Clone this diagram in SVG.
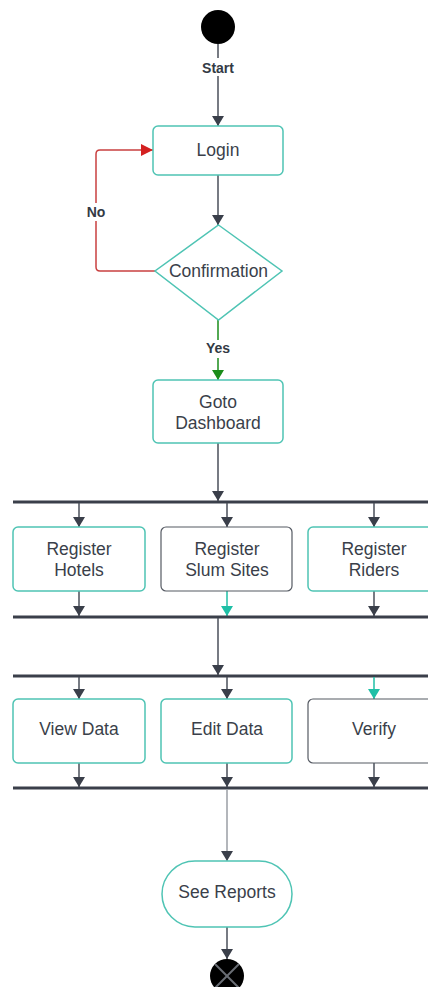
<svg xmlns="http://www.w3.org/2000/svg" width="428" height="987" viewBox="0 0 428 987">
<defs>
<style>
.box{fill:#fff;stroke:#4fc4b4;stroke-width:1.5}
.gbox{fill:#fff;stroke:#555a63;stroke-width:1.2}
.t{font-family:"Liberation Sans",Arial,sans-serif;font-size:17.5px;fill:#3a3f4a;text-anchor:middle}
.lb{font-family:"Liberation Sans",Arial,sans-serif;font-size:14px;font-weight:bold;fill:#333a45;text-anchor:middle}
.c{stroke:#4a4f5a;stroke-width:1.5;fill:none}
.bar{stroke:#3a3f4a;stroke-width:3}
</style>
<marker id="ad" markerWidth="10" markerHeight="12" refX="10" refY="6" orient="auto" markerUnits="userSpaceOnUse"><path d="M0,0 L10,6 L0,12 Z" fill="#3a3f4a"/></marker>
<marker id="at" markerWidth="10" markerHeight="12" refX="10" refY="6" orient="auto" markerUnits="userSpaceOnUse"><path d="M0,0 L10,6 L0,12 Z" fill="#1fbfa6"/></marker>
<marker id="ar" markerWidth="12" markerHeight="12" refX="12" refY="6" orient="auto" markerUnits="userSpaceOnUse"><path d="M0,0 L12,6 L0,12 Z" fill="#d42020"/></marker>
<marker id="ag" markerWidth="10" markerHeight="12" refX="10" refY="6" orient="auto" markerUnits="userSpaceOnUse"><path d="M0,0 L10,6 L0,12 Z" fill="#1a8c1a"/></marker>
</defs>
<rect width="428" height="987" fill="#fff"/>
<g id="connectors">
<line class="c" x1="218" y1="44" x2="218" y2="126" marker-end="url(#ad)"/>
<rect x="200" y="58" width="36" height="18" fill="#fff"/>
<text class="lb" x="218" y="73">Start</text>
<line class="c" x1="218" y1="175" x2="218" y2="225" marker-end="url(#ad)"/>
<path d="M155,271 H100 Q96,271 96,267 V154 Q96,150 100,150 H153" fill="none" stroke="#c94040" stroke-width="1.5" marker-end="url(#ar)"/>
<rect x="82" y="203" width="28" height="18" fill="#fff"/>
<text class="lb" x="96" y="217">No</text>
<line x1="218" y1="320" x2="218" y2="380" stroke="#1a8c1a" stroke-width="1.5" marker-end="url(#ag)"/>
<rect x="202" y="340" width="32" height="18" fill="#fff"/>
<text class="lb" x="218" y="353">Yes</text>
<line class="c" x1="218" y1="443" x2="218" y2="501" marker-end="url(#ad)"/>
<line class="bar" x1="13" y1="502" x2="428" y2="502"/>
<line class="c" x1="79" y1="503" x2="79" y2="527" marker-end="url(#ad)"/>
<line class="c" x1="227" y1="503" x2="227" y2="527" marker-end="url(#ad)"/>
<line class="c" x1="374" y1="503" x2="374" y2="527" marker-end="url(#ad)"/>
<line class="c" x1="79" y1="591" x2="79" y2="616" marker-end="url(#ad)"/>
<line x1="227" y1="591" x2="227" y2="616" stroke="#1fbfa6" stroke-width="1.5" marker-end="url(#at)"/>
<line class="c" x1="374" y1="591" x2="374" y2="616" marker-end="url(#ad)"/>
<line class="bar" x1="13" y1="617" x2="428" y2="617"/>
<line class="c" x1="218" y1="618" x2="218" y2="675" marker-end="url(#ad)"/>
<line class="bar" x1="13" y1="676" x2="428" y2="676"/>
<line class="c" x1="79" y1="677" x2="79" y2="699" marker-end="url(#ad)"/>
<line class="c" x1="227" y1="677" x2="227" y2="699" marker-end="url(#ad)"/>
<line x1="374" y1="677" x2="374" y2="699" stroke="#1fbfa6" stroke-width="1.5" marker-end="url(#at)"/>
<line class="c" x1="79" y1="763" x2="79" y2="787" marker-end="url(#ad)"/>
<line class="c" x1="227" y1="763" x2="227" y2="787" marker-end="url(#ad)"/>
<line class="c" x1="374" y1="763" x2="374" y2="787" marker-end="url(#ad)"/>
<line class="bar" x1="13" y1="788" x2="428" y2="788"/>
<line x1="227" y1="789" x2="227" y2="861" stroke="#9a9ea5" stroke-width="1.5" marker-end="url(#ad)"/>
<line class="c" x1="227" y1="927" x2="227" y2="959" marker-end="url(#ad)"/>
</g>
<g id="start"><circle cx="218" cy="27" r="17" fill="#000"/></g>
<g id="login"><rect class="box" x="153" y="126" width="130" height="49" rx="5"/><text class="t" x="218" y="156">Login</text></g>
<g id="confirmation"><polygon class="box" points="218.5,225 282,271 218.5,320 155,271"/><text class="t" x="218.5" y="277">Confirmation</text></g>
<g id="dashboard"><rect class="box" x="153" y="380" width="130" height="63" rx="5"/><text class="t" x="218" y="408">Goto</text><text class="t" x="218" y="429">Dashboard</text></g>
<g id="hotels"><rect class="box" x="13" y="527" width="132" height="64" rx="5"/><text class="t" x="79" y="555">Register</text><text class="t" x="79" y="576">Hotels</text></g>
<g id="slum"><rect class="gbox" x="161" y="527" width="131" height="64" rx="5"/><text class="t" x="227" y="555">Register</text><text class="t" x="227" y="576">Slum Sites</text></g>
<g id="riders"><rect class="box" x="308" y="527" width="132" height="64" rx="5"/><text class="t" x="374" y="555">Register</text><text class="t" x="374" y="576">Riders</text></g>
<g id="view"><rect class="box" x="13" y="699" width="132" height="64" rx="5"/><text class="t" x="79" y="735">View Data</text></g>
<g id="edit"><rect class="box" x="161" y="699" width="131" height="64" rx="5"/><text class="t" x="227" y="735">Edit Data</text></g>
<g id="verify"><rect class="gbox" x="308" y="699" width="132" height="64" rx="5"/><text class="t" x="374" y="735">Verify</text></g>
<g id="reports"><rect class="box" x="162" y="861" width="130" height="66" rx="33"/><text class="t" x="227" y="898">See Reports</text></g>
<g id="end"><circle cx="227" cy="976" r="17" fill="#000"/><line x1="215" y1="964" x2="239" y2="988" stroke="#6a6e75" stroke-width="2"/><line x1="239" y1="964" x2="215" y2="988" stroke="#6a6e75" stroke-width="2"/></g>
</svg>
